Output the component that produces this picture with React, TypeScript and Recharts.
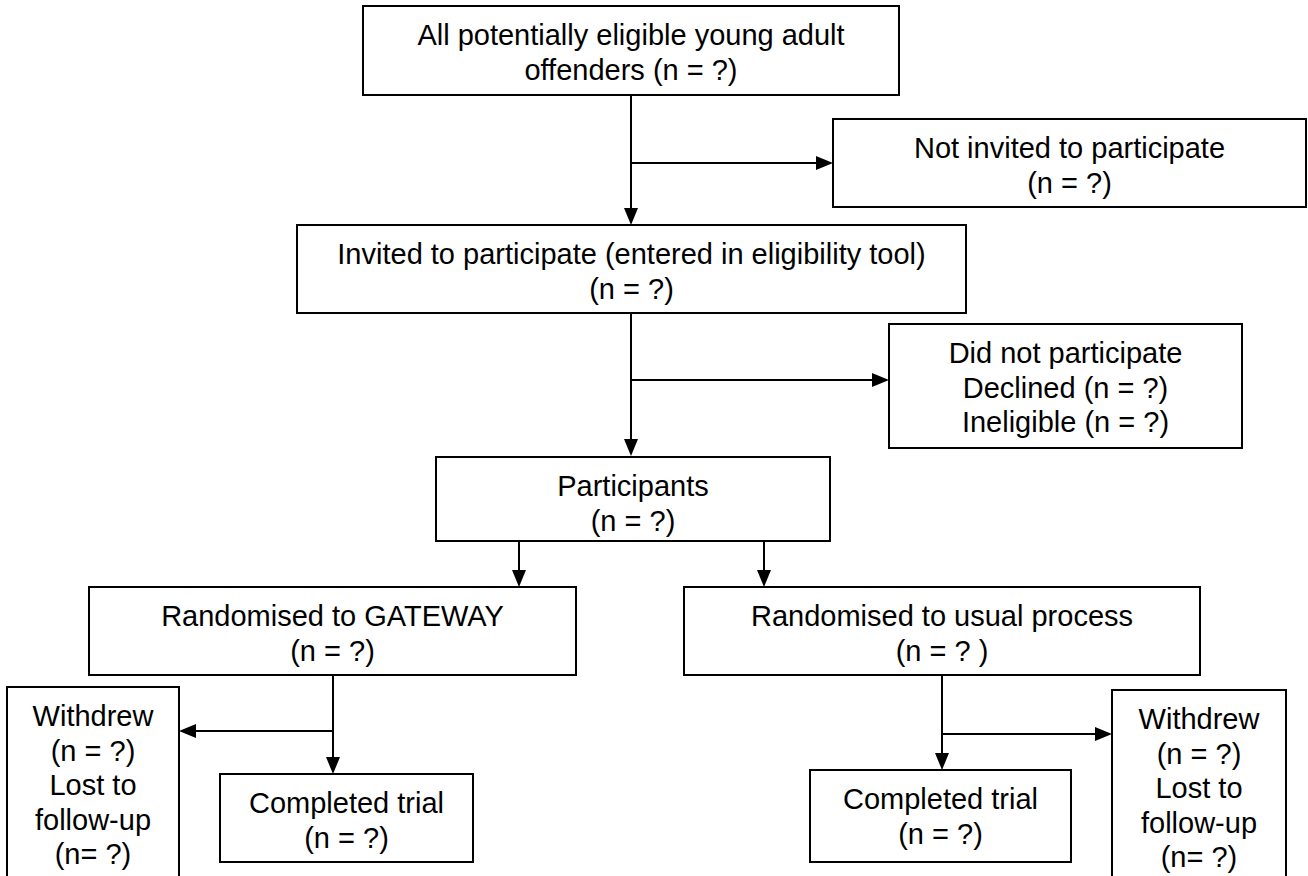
import React from 'react';
import {
  ScatterChart,
  Scatter,
  XAxis,
  YAxis,
  ReferenceArea,
  ReferenceLine,
} from 'recharts';

const WIDTH = 1308;
const HEIGHT = 876;
const FONT = '"Liberation Sans", Arial, sans-serif';

// Text of each box, top to bottom, left to right.
const boxLines: string[][] = [
  ['All potentially eligible young adult', 'offenders (n = ?)'],
  ['Not invited to participate', '(n = ?)'],
  ['Invited to participate (entered in eligibility tool)', '(n = ?)'],
  ['Did not participate', 'Declined (n = ?)', 'Ineligible (n = ?)'],
  ['Participants', '(n = ?)'],
  ['Randomised to GATEWAY', '(n = ?)'],
  ['Randomised to usual process', '(n = ? )'],
  ['Withdrew', '(n = ?)', 'Lost to', 'follow-up', '(n= ?)'],
  ['Completed trial', '(n = ?)'],
  ['Completed trial', '(n = ?)'],
  ['Withdrew', '(n = ?)', 'Lost to', 'follow-up', '(n= ?)'],
];

// Box extents in diagram units (same order as boxLines).
const boxLeft = [363, 833, 297, 889, 436, 89, 684, 7, 220, 810, 1112];
const boxRight = [899, 1306, 966, 1242, 830, 576, 1200, 179, 473, 1071, 1286];
const boxTop = [6, 119, 225, 324, 457, 587, 587, 687, 774, 770, 690];
const boxBottom = [95, 207, 313, 448, 541, 675, 675, 878, 862, 862, 878];

// Connectors, each ends in an arrowhead.
const arrowFromX = [631, 631, 631, 631, 519, 764, 333, 333, 942, 942];
const arrowFromY = [95, 163, 313, 380, 541, 541, 675, 731, 675, 734];
const arrowToX = [631, 833, 631, 889, 519, 764, 333, 179, 942, 1112];
const arrowToY = [225, 163, 456, 380, 587, 587, 774, 731, 770, 734];

const nodes = boxLines.map((lines, i) => ({
  x: (boxLeft[i] + boxRight[i]) / 2,
  y: boxTop[i],
  lines,
}));

const BoxText = (props: any) => {
  const { cx, cy, payload } = props;
  return (
    <text
      x={cx}
      y={cy}
      textAnchor="middle"
      fontFamily={FONT}
      fontSize={29}
      fill="#000"
    >
      {payload.lines.map((line: string, i: number) => (
        <tspan key={i} x={cx} y={cy + 39 + i * 34.5}>
          {line}
        </tspan>
      ))}
    </text>
  );
};

const Arrow = (props: any) => {
  const x1 = Number(props.x1);
  const y1 = Number(props.y1);
  const x2 = Number(props.x2);
  const y2 = Number(props.y2);
  const len = Math.hypot(x2 - x1, y2 - y1) || 1;
  const ux = (x2 - x1) / len;
  const uy = (y2 - y1) / len;
  const headLen = 17;
  const headHalf = 7;
  const bx = x2 - ux * headLen;
  const by = y2 - uy * headLen;
  const pts = [
    `${x2},${y2}`,
    `${bx - uy * headHalf},${by + ux * headHalf}`,
    `${bx + uy * headHalf},${by - ux * headHalf}`,
  ].join(' ');
  return (
    <g>
      <line x1={x1} y1={y1} x2={bx} y2={by} stroke="#000" strokeWidth={2} />
      <polygon points={pts} fill="#000" />
    </g>
  );
};

export default function App() {
  return (
    <div
      style={{
        position: 'absolute',
        left: 0,
        top: 0,
        width: WIDTH,
        height: HEIGHT,
        background: '#fff',
      }}
    >
      <ScatterChart
        width={WIDTH}
        height={HEIGHT}
        margin={{ top: 0, right: 0, bottom: 0, left: 0 }}
      >
        <XAxis type="number" dataKey="x" domain={[0, WIDTH]} allowDataOverflow hide />
        <YAxis type="number" dataKey="y" domain={[0, HEIGHT]} reversed allowDataOverflow hide />
        {boxLines.map((_, i) => (
          <ReferenceArea
            key={`box-${i}`}
            x1={boxLeft[i]}
            x2={boxRight[i]}
            y1={boxTop[i]}
            y2={boxBottom[i]}
            fill="none"
            fillOpacity={0}
            stroke="#000"
            strokeWidth={2}
            ifOverflow="visible"
          />
        ))}
        {arrowFromX.map((_, i) => (
          <ReferenceLine
            key={`arrow-${i}`}
            segment={[
              { x: arrowFromX[i], y: arrowFromY[i] },
              { x: arrowToX[i], y: arrowToY[i] },
            ]}
            ifOverflow="visible"
            shape={Arrow}
          />
        ))}
        <Scatter data={nodes} shape={BoxText} isAnimationActive={false} />
      </ScatterChart>
    </div>
  );
}
